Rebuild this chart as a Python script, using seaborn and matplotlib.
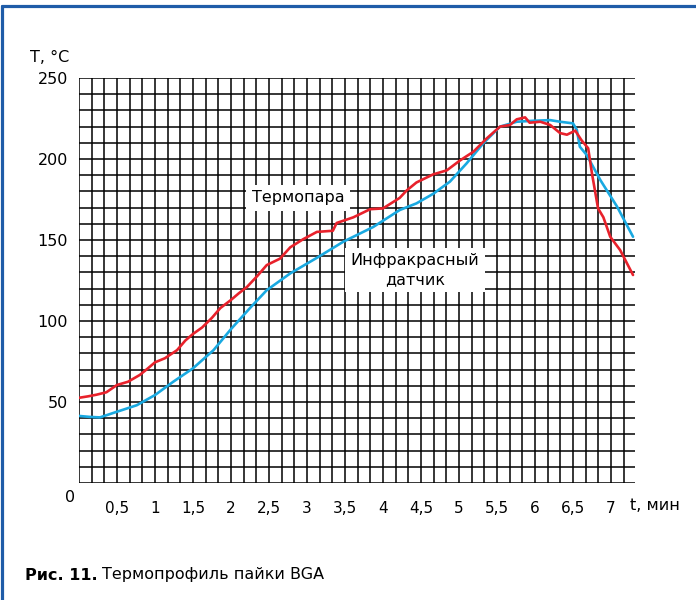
import matplotlib
matplotlib.use("Agg")
import matplotlib.pyplot as plt
import numpy as np
import pandas as pd
import seaborn as sns
from matplotlib.lines import Line2D

sns.set_style("white")
plt.rcParams['font.family'] = ['DejaVu Sans']
plt.rcParams['text.color'] = 'black'
plt.rcParams['xtick.color'] = 'black'
plt.rcParams['ytick.color'] = 'black'

# Thermocouple (red) readings, time in minutes
tc_time = [0, 0.12, 0.23, 0.36, 0.5, 0.645, 0.8, 0.9, 1.0, 1.13, 1.29, 1.4, 1.5, 1.62,
           1.75, 1.86, 2.0, 2.1, 2.21, 2.35, 2.47, 2.645, 2.78, 2.95, 3.13, 3.34, 3.39,
           3.61, 3.83, 4.0, 4.22, 4.31, 4.44, 4.66, 4.84, 5.01, 5.19, 5.36, 5.54, 5.67,
           5.76, 5.87, 5.93, 6.07, 6.2, 6.33, 6.42, 6.53, 6.61, 6.70, 6.75, 6.83, 6.90,
           6.99, 7.12, 7.29]
tc_temp = [52.6, 53.5, 54.5, 56, 60.5, 62.5, 66.7, 70.5, 74.5, 77, 82, 88, 92, 96,
           102, 108, 113, 117, 121, 128, 134.5, 138.5, 145.5, 150.5, 155, 155.7, 160.5,
           164, 169, 169.5, 176, 180.5, 185.5, 190.5, 193, 199, 204.5, 212.5, 220, 221,
           224.5, 225.7, 222.4, 223, 221, 216, 215, 217.5, 211.7, 206.6, 191, 169.5, 164,
           152, 143.8, 128.4]

# Infrared sensor (blue) readings
ir_time = [0, 0.14, 0.276, 0.5, 0.76, 1.0, 1.24, 1.5, 1.77, 2.0, 2.25, 2.47, 2.78, 3.13,
           3.48, 3.87, 4.22, 4.44, 4.66, 4.88, 5.1, 5.32, 5.54, 5.76, 5.98, 6.2, 6.33,
           6.50, 6.55, 6.59, 6.68, 6.86, 7.08, 7.29]
ir_temp = [41.4, 40.8, 40.5, 44, 48, 54.3, 62.5, 70.8, 82, 95, 108, 119, 129.4, 139,
           149, 158, 168.5, 172.6, 178.5, 186, 197.3, 209.7, 220, 223, 223.6, 224, 223,
           222, 218, 207.6, 202.5, 187, 170.6, 152]

x_labels = ['0,5', '1', '1,5', '2', '2,5', '3', '3,5', '4', '4,5', '5', '5,5', '6', '6,5', '7']

df = pd.concat([
    pd.DataFrame({'t': tc_time, 'T': tc_temp, 'src': 'Термопара'}),
    pd.DataFrame({'t': ir_time, 'T': ir_temp, 'src': 'ИК'}),
])

fig = plt.figure(figsize=(6.96, 6.0), dpi=100)
ax = fig.add_axes([79 / 696, 1 - 483 / 600, (635 - 79) / 696, (483 - 78) / 600])

# grid: every 10 s on x, every 10 degrees on y
ax.set_xlim(0, 7.316)
ax.set_ylim(0, 250)
ax.set_xticks(np.arange(0, 44) / 6, minor=True)
ax.set_yticks(np.arange(0, 251, 10), minor=True)

sns.lineplot(data=df, x='t', y='T', hue='src', ax=ax, sort=False, legend=False,
             palette={'Термопара': '#e8212b', 'ИК': '#19a9e1'}, linewidth=1.9,
             hue_order=['ИК', 'Термопара'])
for ln in ax.lines:
    ln.set_solid_joinstyle('round')
    ln.set_solid_capstyle('round')

for s in ax.spines.values():
    s.set_visible(False)

ax.set_xticks(np.arange(1, 15) * 0.5)
ax.set_xticklabels(x_labels, fontsize=11)
ax.set_yticks(np.arange(0, 251, 50))
ax.set_yticklabels(['', '50', '100', '150', '200', '250'], fontsize=11.5)
ax.grid(which='both', color='black', linewidth=1.1)
ax.set_axisbelow(True)
ax.tick_params(axis='x', which='both', direction='out', length=4, width=1.1, color='black', pad=9)
ax.tick_params(axis='y', which='major', direction='out', length=4, width=1.1, color='black', pad=4)
ax.tick_params(axis='y', which='minor', length=0)
ax.set_xlabel('')
ax.set_ylabel('')

fig.text(70 / 696, 1 - 497 / 600, '0', fontsize=11.5, ha='center', va='center')
fig.text(30 / 696, 1 - 58 / 600, 'T, °C', fontsize=11.5, ha='left', va='center')
fig.text(630 / 696, 1 - 505 / 600, 't, мин', fontsize=11.5, ha='left', va='center')

box = dict(facecolor='white', edgecolor='none', pad=4)
ax.text(2.88, 176, 'Термопара', fontsize=11.5, ha='center', va='center', bbox=box)
ax.text(4.42, 131.5, 'Инфракрасный\nдатчик', fontsize=11.5, ha='center', va='center',
        linespacing=1.3, bbox=box)

# caption
cap_font = ['Liberation Sans Narrow', 'DejaVu Sans Condensed', 'DejaVu Sans']
t1 = fig.text(25 / 696, 1 - 575 / 600, 'Рис. 11.', fontsize=11.5, fontweight='bold',
              family=cap_font, ha='left', va='center')
r = fig.canvas.get_renderer()
bb = t1.get_window_extent(renderer=r)
fig.text((bb.x1 + 4) / 696, 1 - 575 / 600, 'Термопрофиль пайки BGA', fontsize=11.5,
         family=cap_font, ha='left', va='center')

# page frame (blue)
fig.add_artist(Line2D([2 / 696, 1], [1 - 6 / 600, 1 - 6 / 600], color='#1f5ca8', linewidth=2.3,
                      transform=fig.transFigure))
fig.add_artist(Line2D([2 / 696, 2 / 696], [1 - 6 / 600, 0], color='#1f5ca8', linewidth=2.3,
                      transform=fig.transFigure))

fig.savefig('out.png', dpi=100)
